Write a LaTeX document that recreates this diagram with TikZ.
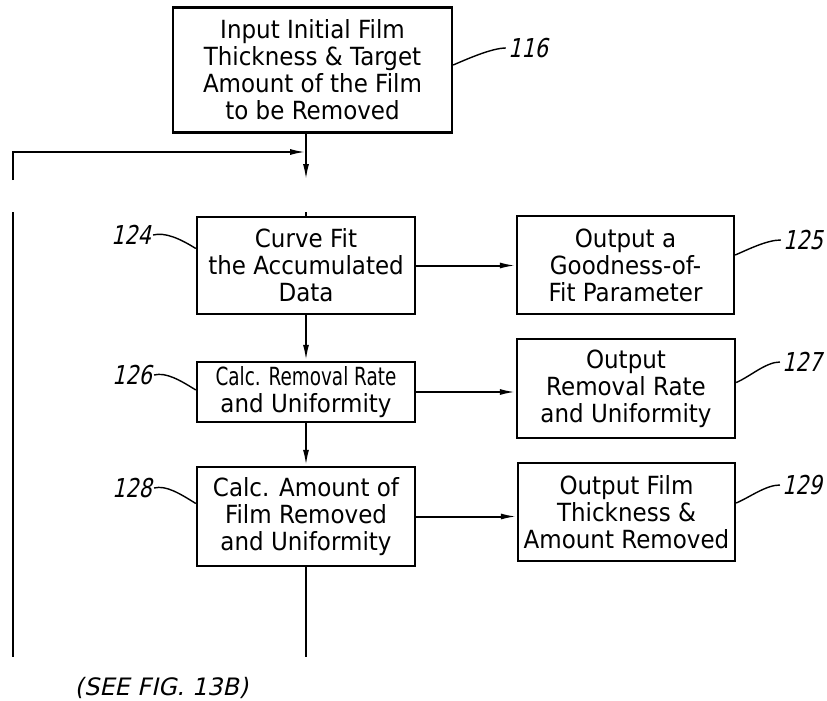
\documentclass[tikz,border=0pt]{standalone}
\usepackage{graphicx}
\usepackage{fontspec}
\setmainfont{DejaVu Sans}
\newfontfamily\patfont[FakeStretch=0.92]{DejaVu Sans}
\newfontfamily\patnum[FakeSlant=0.22,FakeStretch=0.8]{DejaVu Sans}
\newfontfamily\patsee[FakeSlant=0.22]{DejaVu Sans}
\usetikzlibrary{arrows.meta}
\tikzset{>={Latex[length=16pt,width=6pt]}}
\tikzset{stepbox/.style={draw, line width=2.4pt, inner sep=0pt, align=center,
  font={\patfont\fontsize{25}{27}\selectfont}},
  flow/.style={line width=2pt},
  lead/.style={line width=1.4pt},
  refnum/.style={inner sep=2pt, font={\patnum\fontsize{26}{28}\selectfont}}}

\begin{document}
\begin{tikzpicture}[x=1pt,y=-1pt]
    \useasboundingbox (0,0) rectangle (827,701);
    \node[stepbox, minimum width=279pt, minimum height=125pt] (in116) at (312.5,70) {Input Initial Film\\Thickness \& Target\\Amount of the Film\\to be Removed};
    \node[stepbox, minimum width=218pt, minimum height=97pt] (fit124) at (306,265.5) {Curve Fit\\the Accumulated\\Data};
    \node[stepbox, minimum width=217pt, minimum height=98pt] (gof125) at (625.5,265) {Output a\\Goodness-of-\\Fit Parameter};
    \node[stepbox, minimum width=218pt, minimum height=60pt] (rate126) at (306,392) {\scalebox{0.8}[1]{Calc. Removal Rate}\\and Uniformity};
    \node[stepbox, minimum width=218pt, minimum height=99pt] (outrate127) at (626,388.5) {Output\\Removal Rate\\and Uniformity};
    \node[stepbox, minimum width=218pt, minimum height=99pt] (amt128) at (306,516.5) {Calc. Amount of\\Film Removed\\and Uniformity};
    \node[stepbox, minimum width=217pt, minimum height=98pt] (outamt129) at (626.5,512) {Output Film\\Thickness \&\\Amount Removed};
    \coordinate (join) at (306,152);
    \coordinate (cuta) at (306,180);
    \coordinate (cutb) at (306,212);
    \coordinate (bot) at (306,657);
    \coordinate (reta) at (13,180);
    \coordinate (retb) at (13,212);
    \coordinate (retc) at (13,657);
    \draw[flow, ->] (in116.south -| join) -- (cuta);
    \draw[flow, ->] (reta) |- (join);
    \draw[flow] (cutb) -- (fit124.north);
    \draw[flow] (retb) -- (retc);
    \draw[flow, ->] (fit124.south) -- (rate126.north);
    \draw[flow, ->] (rate126.south) -- (amt128.north);
    \draw[flow] (amt128.south) -- (bot);
    \draw[flow, ->] (fit124.east) -- (fit124.east -| gof125.west);
    \draw[flow, ->] (rate126.east) -- (rate126.east -| outrate127.west);
    \draw[flow, ->] (amt128.east) -- (amt128.east -| outamt129.west);
    \node[refnum] (n116) at (528,48) {116};
    \node[refnum] (n124) at (131,235) {124};
    \node[refnum] (n126) at (132,375) {126};
    \node[refnum] (n128) at (132,488) {128};
    \node[refnum] (n125) at (803,240) {125};
    \node[refnum] (n127) at (802,362) {127};
    \node[refnum] (n129) at (802,485) {129};
    \draw[lead] ([yshift=5pt]in116.east) .. controls +(14,-6) and +(-14,0) .. (n116.west);
    \draw[lead] ([yshift=10pt]gof125.east) .. controls +(14,-6) and +(-14,0) .. (n125.west);
    \draw[lead] ([yshift=6pt]outrate127.east) .. controls +(14,-6) and +(-14,0) .. (n127.west);
    \draw[lead] ([yshift=9pt]outamt129.east) .. controls +(14,-6) and +(-14,0) .. (n129.west);
    \draw[lead] (n124.east) .. controls +(12,-3) and +(-16,-10) .. ([yshift=17pt]fit124.west);
    \draw[lead] (n126.east) .. controls +(12,-3) and +(-16,-10) .. ([yshift=2pt]rate126.west);
    \draw[lead] (n128.east) .. controls +(12,-3) and +(-16,-10) .. ([yshift=13pt]amt128.west);
    \node[font={\patsee\fontsize{24}{27}\selectfont}] (see13b) at (161.5,688) {(SEE FIG. 13B)};
\end{tikzpicture}
\end{document}
